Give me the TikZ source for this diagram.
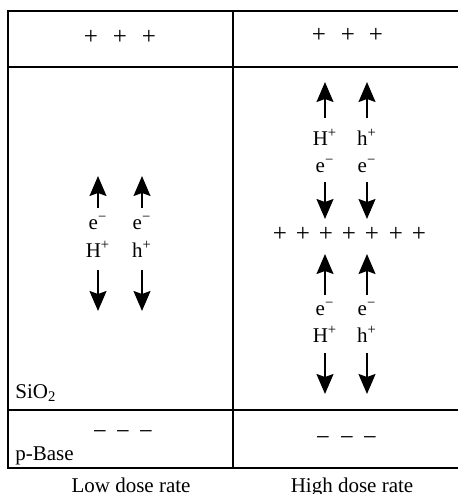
\documentclass[tikz,border=0pt]{standalone}
\usepackage{fontspec}
\setmainfont{Liberation Serif}
\usetikzlibrary{arrows.meta,positioning}

\tikzset{
  carrier/.style={-{Stealth[length=10pt,width=8.5pt,inset=1.5pt]}, line width=0.75pt},
  frame/.style={line width=1pt},
  charge/.style={inner sep=0pt, anchor=base},
  fixed/.style={charge, font=\fontsize{12.5}{14}\selectfont}
}

\begin{document}
\begin{tikzpicture}[x=0.5pt,y=-0.5pt,
    every node/.style={font=\fontsize{10.5}{12}\selectfont}]
  \useasboundingbox (0,0) rectangle (458,494);

  % frame of the two columns
  \draw[frame] (459,11) -- (8,11) -- (8,468) -- (459,468);
  \draw[frame] (8,67) -- (459,67);
  \draw[frame] (8,410) -- (459,410);
  \draw[frame] (233,11) -- (233,468);

  % fixed charges
  \foreach \x in {91,120,149} {
    \node[fixed] (lowtop\x) at (\x,44) {+};
  }
  \foreach \x in {319,348,376} {
    \node[fixed] (hightop\x) at (\x,42) {+};
  }
  \foreach \x in {280,303,326,349,372,396,419} {
    \node[fixed] (highmid\x) at (\x,241) {+};
  }
  \foreach \x in {100,123,146} {
    \node[fixed] (lowbase\x) at (\x,439) {−};
  }
  \foreach \x in {323,347,370} {
    \node[fixed] (highbase\x) at (\x,445) {−};
  }

  % low dose rate carriers
  \foreach \x/\hole in {98/H, 142/h} {
    \node[charge] (lowe\hole) at (\x,229) {e\textsuperscript{−}};
    \node[charge] (lowh\hole) at (\x,257) {\hole\textsuperscript{+}};
    \coordinate (lowupA\hole) at (\x,208);
    \coordinate (lowupB\hole) at (\x,176);
    \coordinate (lowdnA\hole) at (\x,270);
    \coordinate (lowdnB\hole) at (\x,311);
    \draw[carrier] (lowupA\hole) -- (lowupB\hole);
    \draw[carrier] (lowdnA\hole) -- (lowdnB\hole);
  }

  % high dose rate carriers, above and below the trapped charge
  \foreach \x/\hole in {325/H, 367/h} {
    \node[charge] (uph\hole) at (\x,145) {\hole\textsuperscript{+}};
    \node[charge] (upe\hole) at (\x,172) {e\textsuperscript{−}};
    \coordinate (upupA\hole) at (\x,118);
    \coordinate (upupB\hole) at (\x,82);
    \coordinate (updnA\hole) at (\x,182);
    \coordinate (updnB\hole) at (\x,219);
    \draw[carrier] (upupA\hole) -- (upupB\hole);
    \draw[carrier] (updnA\hole) -- (updnB\hole);

    \node[charge] (dne\hole) at (\x,315) {e\textsuperscript{−}};
    \node[charge] (dnh\hole) at (\x,342) {\hole\textsuperscript{+}};
    \coordinate (dnupA\hole) at (\x,295);
    \coordinate (dnupB\hole) at (\x,254);
    \coordinate (dndnA\hole) at (\x,353);
    \coordinate (dndnB\hole) at (\x,394);
    \draw[carrier] (dnupA\hole) -- (dnupB\hole);
    \draw[carrier] (dndnA\hole) -- (dndnB\hole);
  }

  % layer names and captions
  \node[charge, anchor=base west] (oxide) at (15,398) {SiO\textsubscript{2}};
  \node[charge, anchor=base west] (base) at (15,460) {p-Base};
  \node[charge] (lowcap) at (131,492) {Low dose rate};
  \node[charge] (highcap) at (352,492) {High dose rate};
\end{tikzpicture}
\end{document}
